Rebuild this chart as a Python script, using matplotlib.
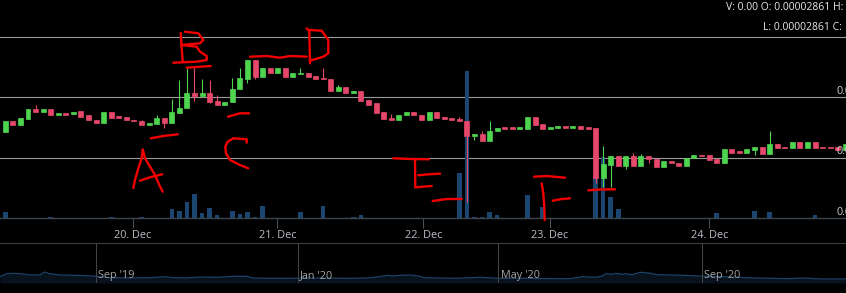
import matplotlib
matplotlib.use("Agg")
import matplotlib.pyplot as plt
import numpy as np
import pandas as pd

# candle data, prices in 1e-8 units
opens = [2871, 2880, 2877, 2882, 2890, 2888, 2890, 2885, 2887, 2886,
         2889, 2885, 2881, 2879, 2888, 2884, 2884, 2881, 2880, 2877,
         2878, 2883, 2879, 2887, 2891, 2904, 2901, 2904, 2897, 2894,
         2896, 2907, 2915, 2931, 2917, 2924, 2920, 2924, 2917, 2919,
         2920, 2918, 2916, 2915, 2905, 2909, 2904, 2905, 2898, 2895,
         2888, 2883, 2881, 2885, 2888, 2885, 2881, 2888, 2884, 2883,
         2882, 2880, 2868, 2870, 2864, 2872, 2875, 2875, 2874, 2874,
         2884, 2878, 2874, 2875, 2876, 2875, 2876, 2875, 2875, 2833,
         2844, 2851, 2843, 2851, 2843, 2851, 2849, 2842, 2847, 2846,
         2843, 2850, 2852, 2852, 2849, 2846, 2857, 2855, 2854, 2856,
         2859, 2853, 2861, 2859, 2858, 2863, 2858, 2863, 2859, 2859,
         2859, 2856]
closes = [2880, 2877, 2883, 2890, 2888, 2890, 2885, 2887, 2885, 2888,
          2884, 2881, 2879, 2888, 2883, 2883, 2881, 2880, 2877, 2879,
          2883, 2879, 2888, 2891, 2904, 2901, 2904, 2896, 2894, 2896,
          2907, 2916, 2931, 2917, 2924, 2920, 2924, 2917, 2920, 2920,
          2917, 2915, 2915, 2905, 2909, 2904, 2905, 2897, 2894, 2887,
          2882, 2881, 2885, 2888, 2885, 2881, 2888, 2883, 2882, 2881,
          2880, 2868, 2870, 2864, 2872, 2875, 2874, 2874, 2875, 2884,
          2877, 2874, 2875, 2876, 2875, 2876, 2874, 2874, 2833, 2845,
          2851, 2843, 2851, 2843, 2851, 2849, 2842, 2847, 2846, 2843,
          2850, 2852, 2851, 2848, 2846, 2857, 2854, 2854, 2857, 2859,
          2853, 2861, 2858, 2858, 2863, 2858, 2863, 2858, 2858, 2858,
          2856, 2861]
highs = [2880, 2880, 2883, 2890, 2894, 2890, 2890, 2887, 2887, 2888,
         2889, 2885, 2881, 2888, 2888, 2884, 2884, 2881, 2881, 2879,
         2885, 2883, 2899, 2914, 2924, 2924, 2915, 2914, 2902, 2896,
         2916, 2924, 2931, 2931, 2924, 2924, 2924, 2924, 2920, 2924,
         2920, 2918, 2924, 2915, 2910, 2909, 2905, 2905, 2898, 2895,
         2888, 2886, 2885, 2888, 2888, 2885, 2888, 2888, 2884, 2883,
         2884, 2880, 2870, 2872, 2880, 2875, 2875, 2875, 2875, 2884,
         2884, 2878, 2875, 2876, 2876, 2876, 2876, 2875, 2875, 2860,
         2851, 2851, 2851, 2854, 2853, 2851, 2849, 2847, 2847, 2846,
         2850, 2852, 2852, 2852, 2849, 2857, 2857, 2855, 2857, 2859,
         2859, 2872, 2861, 2859, 2863, 2863, 2863, 2863, 2859, 2859,
         2859, 2861]
lows = [2871, 2877, 2877, 2882, 2888, 2888, 2885, 2885, 2885, 2886,
        2884, 2881, 2879, 2879, 2883, 2883, 2881, 2880, 2877, 2877,
        2878, 2875, 2879, 2887, 2891, 2897, 2901, 2895, 2894, 2894,
        2896, 2907, 2912, 2915, 2917, 2920, 2920, 2917, 2917, 2919,
        2917, 2915, 2915, 2905, 2905, 2904, 2904, 2897, 2894, 2887,
        2882, 2881, 2881, 2885, 2885, 2881, 2881, 2883, 2882, 2881,
        2880, 2813, 2865, 2864, 2864, 2872, 2874, 2874, 2874, 2874,
        2877, 2874, 2874, 2875, 2875, 2875, 2874, 2874, 2829, 2826,
        2826, 2843, 2841, 2843, 2843, 2846, 2842, 2842, 2846, 2843,
        2843, 2850, 2851, 2848, 2846, 2846, 2854, 2854, 2854, 2852,
        2853, 2853, 2858, 2858, 2858, 2858, 2858, 2858, 2858, 2858,
        2856, 2856]
volumes = [6, 0, 0, 0, 0, 0, 1, 0, 0, 0,
           0, 0, 0, 0, 1, 0, 0, 0, 1, 0,
           0, 0, 9, 7, 16, 24, 5, 10, 3, 0,
           7, 4, 6, 1, 12, 0, 0, 0, 0, 6,
           0, 0, 12, 0, 0, 0, 1, 3, 0, 0,
           0, 0, 0, 0, 0, 0, 0, 0, 0, 0,
           45, 147, 1, 1, 6, 3, 0, 0, 0, 23,
           0, 11, 0, 0, 0, 0, 0, 0, 40, 61,
           21, 9, 0, 0, 0, 0, 0, 0, 0, 0,
           0, 0, 0, 0, 5, 0, 0, 0, 0, 7,
           0, 6, 0, 0, 0, 0, 0, 3, 0, 0,
           0, 0]

# ordinal axis: day boundaries fall between candles
day_ticks = [16.87, 35.94, 55.23, 71.97, 93.02]
day_labels = ["20. Dec", "21. Dec", "22. Dec", "23. Dec", "24. Dec"]
price_grid = [2950, 2900, 2850]
price_labels = [2900, 2850, 2800]

# navigator series
nav_start = pd.Timestamp("2019-07-05")
nav_days = [0, 4, 8, 12, 18, 24, 27, 30, 36, 46, 56, 66, 77, 91, 99, 105, 113, 121,
            131, 141, 149, 153, 161, 173, 191, 211, 222, 228, 234, 237, 242, 248,
            253, 256, 276, 290, 302, 316, 336, 344, 352, 360, 364, 366, 370, 372,
            376, 378, 382, 387, 393, 397, 405, 413, 421, 429, 437, 445, 457, 477,
            485, 497, 511]
nav_vals = [6.3, 9.3, 9.7, 9.3, 8, 8, 11, 9.3, 8, 7.7, 7, 5.3, 5, 5.3, 6.3, 5.3, 5, 6,
            5.7, 6.7, 6.7, 5, 4.7, 4.7, 5, 4.7, 5, 6, 7.7, 7, 7.7, 8,
            7, 5.3, 4.7, 5.7, 4.7, 4.7, 4.3, 4.3, 6.3, 5.7, 7, 9.3, 8.7, 9.7,
            8.7, 9.3, 8.3, 10.7, 9.7, 8.3, 8, 7.7, 7, 6.7, 6.3, 5.7, 5, 4.3,
            5, 4, 4]
nav_months = ["2019-09-01", "2020-01-01", "2020-05-01", "2020-09-01"]
nav_month_labels = ["Sep '19", "Jan '20", "May '20", "Sep '20"]

# hand-drawn red marks over the chart (figure pixels)
strokes = [
    [(142.7, 149.3), (141.7, 158.3), (138.3, 168.3), (135, 180), (133.3, 188)],
    [(143.3, 151), (145, 158.3), (150, 166.7), (155, 175), (159.3, 185), (162.7, 191.7)],
    [(140, 180.7), (150, 177.3), (162.3, 174.3)],
    [(150.7, 138.3), (163.3, 136), (177.7, 134.3)],
    [(180.7, 33), (181.5, 45), (182.7, 61.7)],
    [(185, 31.7), (198.3, 33.3), (203.3, 40), (200, 43.3), (181.7, 45)],
    [(181.7, 45), (196.7, 46.7), (200, 51.7), (206.7, 56), (206.7, 60), (196.7, 61.7), (173.3, 62.7)],
    [(186.7, 67.7), (210.7, 66)],
    [(228, 116.7), (240, 113.3), (249, 113.3)],
    [(246.7, 142.7), (246.7, 139.3), (233.3, 138.3), (227.7, 141.7), (225.3, 146.7),
     (226, 153.3), (230, 160), (240, 165), (248.3, 168.3)],
    [(250, 56.7), (266.7, 56), (280, 57.7), (290, 56), (306.7, 56.7)],
    [(306.7, 28.3), (309.3, 31), (310, 63.3)],
    [(309.3, 30), (321.7, 30.7), (328.3, 40), (328.3, 53.3), (323.3, 56.7), (310, 60.7)],
    [(393.3, 158.3), (410, 159), (429, 159.3)],
    [(415, 160), (415.3, 187.3)],
    [(415.3, 187.3), (431.7, 186)],
    [(418.3, 175.3), (428, 174.3), (440, 173.7)],
    [(432.7, 201), (446.7, 199), (461.7, 199)],
    [(534, 176.7), (546.7, 176), (565, 177.7)],
    [(541.7, 183.3), (543.3, 193.3), (544.3, 206.7), (544.7, 220)],
    [(552.7, 200.7), (560, 199.3), (570, 198.3)],
    [(588.3, 190.3), (600, 189.5), (615, 189.3)],
]

BG = "#000000"
UP = "#4fd44f"
DOWN = "#e6486b"
VOL = "#1b4672"
GRID = "#9a9a9a"
W, H = 846, 293

plt.rcParams['font.family'] = ['Open Sans', 'DejaVu Sans']
fig = plt.figure(figsize=(W / 100, H / 100), dpi=100, facecolor=BG)

# volume pane (bottom layer) + price pane on top
ax_v = fig.add_axes([0, (H - 218) / H, 1, 218 / H])
ax_v.set_facecolor(BG)
ax = ax_v.twinx()

o = np.array(opens, float)
c = np.array(closes, float)
x = np.arange(len(o))
cols = [UP if cc >= oo else DOWN for oo, cc in zip(o, c)]

ax_v.bar(x, volumes, width=0.6, color=VOL, zorder=2)
for g in price_grid:
    ax_v.plot([0, 1], [g, g], transform=ax.get_yaxis_transform(),
              color=GRID, lw=0.8, zorder=1)

ax.vlines(x, lows, highs, colors=cols, lw=0.8, zorder=2)
body_h = np.maximum(np.abs(c - o), 1.2)
ax.bar(x, body_h, bottom=np.minimum(o, c), width=0.66, color=cols,
       edgecolor=cols, lw=0.5, zorder=3)

ax.set_xlim(-0.70, 111.09)
ax.set_ylim(2800, 2980.7)
ax_v.set_ylim(0, 218)

for v in price_labels:
    ax.annotate(f"{v * 1e-8:.8f}", xy=(836.5 / W, v), xycoords=('axes fraction', 'data'),
                xytext=(0, 6), textcoords='offset pixels', va='center', ha='left',
                color="#d0d0d0", fontsize=7.8)

ax_v.set_xticks(day_ticks, day_labels)
ax_v.tick_params(axis='x', length=7, width=0.75, color="#4a4f55",
                 labelcolor="#b9bdc4", labelsize=7.8, pad=1.5)
ax_v.tick_params(axis='y', left=False, labelleft=False)
ax.tick_params(axis='y', right=False, labelright=False)
for s in ax.spines.values():
    s.set_visible(False)
for name, s in ax_v.spines.items():
    s.set_visible(name == 'bottom')
ax_v.spines['bottom'].set_color("#3a4550")
ax_v.spines['bottom'].set_linewidth(1)

fig.text(725.7 / W, 1 - 8 / H, "V: 0.00 O: 0.00002861 H:", ha='left', va='center',
         color="#e8e8e8", fontsize=7.5)
fig.text(763.3 / W, 1 - 27 / H, "L: 0.00002861 C:", ha='left', va='center',
         color="#e8e8e8", fontsize=7.5)

# navigator
ax_n = fig.add_axes([0, 10 / H, 1, 40 / H])
ax_n.set_facecolor(BG)
nav_dates = nav_start + pd.to_timedelta(nav_days, unit='D')
ax_n.fill_between(nav_dates, nav_vals, 0, color="#07121d", lw=0)
ax_n.plot(nav_dates, nav_vals, color="#1d4268", lw=0.9)
for d, lab in zip(nav_months, nav_month_labels):
    ax_n.axvline(pd.Timestamp(d), color="#444444", lw=0.75)
    ax_n.annotate(lab, xy=(pd.Timestamp(d), 7.5), xytext=(2.5, 0), textcoords='offset pixels',
                  va='center', ha='left', color="#a3a3a3", fontsize=7.8)
ax_n.set_xlim(nav_start, nav_start + pd.Timedelta(days=511.2))
ax_n.set_ylim(0, 40)
ax_n.set_xticks([])
ax_n.set_yticks([])
for name, s in ax_n.spines.items():
    s.set_visible(name == 'top')
ax_n.spines['top'].set_color("#3d3d3d")

# overlay for the red marks
ov = fig.add_axes([0, 0, 1, 1], zorder=10)
ov.set_xlim(0, W)
ov.set_ylim(H, 0)
ov.axis('off')
ov.patch.set_visible(False)
for st in strokes:
    xs, ys = zip(*st)
    ov.plot(xs, ys, color="#f20000", lw=1.7, solid_capstyle='round', solid_joinstyle='round')

fig.savefig("out.png", dpi=100, facecolor=BG)
